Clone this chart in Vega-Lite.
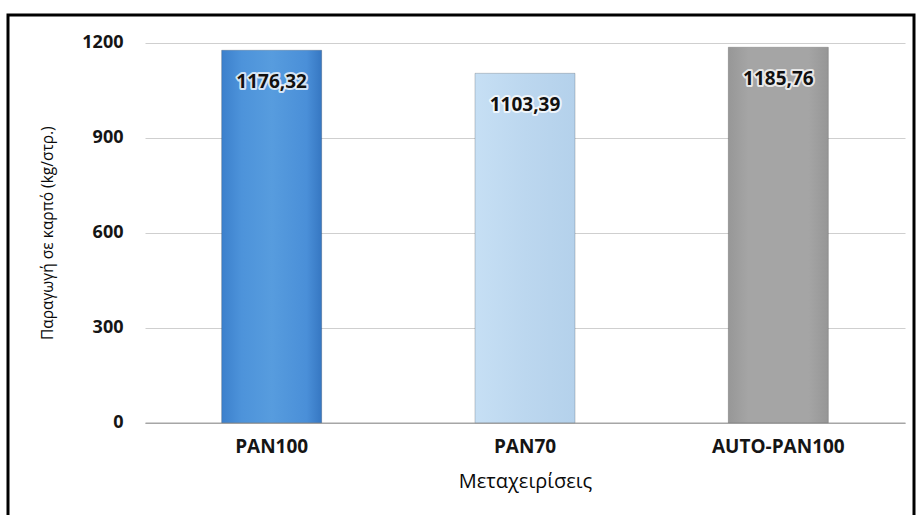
{
  "$schema": "https://vega.github.io/schema/vega-lite/v6.json",
  "autosize": "none",
  "padding": {"left": 8, "top": 15, "right": 7, "bottom": 0},
  "width": 906,
  "height": 505,
  "background": "#ffffff",
  "config": {
    "locale": {"number": {"decimal": ",", "thousands": ".", "grouping": [3], "currency": ["", " €"]}},
    "view": {"stroke": "#000000", "strokeWidth": 3},
    "font": "Open Sans",
    "axis": {"labelFont": "Open Sans", "titleFont": "Open Sans"}
  },
  "data": {
    "values": [
      {"treatment": "PAN100", "yield": 1176.32},
      {"treatment": "PAN70", "yield": 1103.39},
      {"treatment": "AUTO-PAN100", "yield": 1185.76}
    ]
  },
  "encoding": {
    "x": {
      "field": "treatment",
      "type": "nominal",
      "sort": null,
      "scale": {"range": [137, 897], "paddingInner": 0.605, "paddingOuter": 0.3025},
      "axis": {
        "title": "Μεταχειρίσεις",
        "orient": "bottom",
        "offset": -97.3,
        "labelAngle": 0,
        "labelFontSize": 19,
        "labelFontWeight": "bold",
        "labelColor": "#151515",
        "labelPadding": 15,
        "ticks": false,
        "domainColor": "#a6a6a6",
        "domainWidth": 1.5,
        "titleFontSize": 20,
        "titleFontWeight": "normal",
        "titleColor": "#0a0a0a",
        "titlePadding": 15,
        "grid": false
      }
    },
    "y": {
      "field": "yield",
      "type": "quantitative",
      "scale": {"domain": [0, 1200], "range": [407.7, 27.7], "nice": false, "zero": true},
      "axis": {
        "title": "Παραγωγή σε καρπό (kg/στρ.)",
        "orient": "left",
        "offset": -137,
        "values": [0, 300, 600, 900, 1200],
        "format": "d",
        "labelFontSize": 18,
        "labelFontWeight": "bold",
        "labelColor": "#151515",
        "labelPadding": 22,
        "ticks": false,
        "domain": false,
        "grid": true,
        "gridColor": "#cfcfcf",
        "gridWidth": 1,
        "titleFontSize": 15.5,
        "titleFontWeight": "normal",
        "titleColor": "#0a0a0a",
        "titlePadding": 26
      }
    }
  },
  "layer": [
    {
      "mark": {"type": "bar", "stroke": "#000000", "strokeOpacity": 0.18, "strokeWidth": 1},
      "encoding": {
        "fill": {
          "condition": [
            {
              "test": "datum.treatment === 'PAN100'",
              "value": {
                "gradient": "linear", "x1": 0, "x2": 1, "y1": 0, "y2": 0,
                "stops": [
                  {"offset": 0, "color": "#3c80cc"},
                  {"offset": 0.2, "color": "#4d93da"},
                  {"offset": 0.5, "color": "#579cde"},
                  {"offset": 0.85, "color": "#4a8fd8"},
                  {"offset": 1, "color": "#3677c2"}
                ]
              }
            },
            {
              "test": "datum.treatment === 'PAN70'",
              "value": {
                "gradient": "linear", "x1": 0, "x2": 1, "y1": 0, "y2": 0,
                "stops": [
                  {"offset": 0, "color": "#c6dff4"},
                  {"offset": 0.5, "color": "#bcd7ef"},
                  {"offset": 1, "color": "#b4d1eb"}
                ]
              }
            }
          ],
          "value": {
            "gradient": "linear", "x1": 0, "x2": 1, "y1": 0, "y2": 0,
            "stops": [
              {"offset": 0, "color": "#979797"},
              {"offset": 0.2, "color": "#a5a5a5"},
              {"offset": 0.8, "color": "#a5a5a5"},
              {"offset": 1, "color": "#969696"}
            ]
          }
        }
      }
    },
    {
      "mark": {"type": "text", "baseline": "middle", "align": "center", "dy": 32, "fontSize": 19, "fontWeight": "bold", "stroke": "#ffffff", "strokeWidth": 4, "strokeOpacity": 0.75, "strokeJoin": "round", "fill": "#ffffff"},
      "encoding": {"text": {"field": "yield", "type": "quantitative", "format": ".2f"}}
    },
    {
      "mark": {"type": "text", "baseline": "middle", "align": "center", "dy": 32, "fontSize": 19, "fontWeight": "bold", "fill": "#111111"},
      "encoding": {"text": {"field": "yield", "type": "quantitative", "format": ".2f"}}
    }
  ]
}
